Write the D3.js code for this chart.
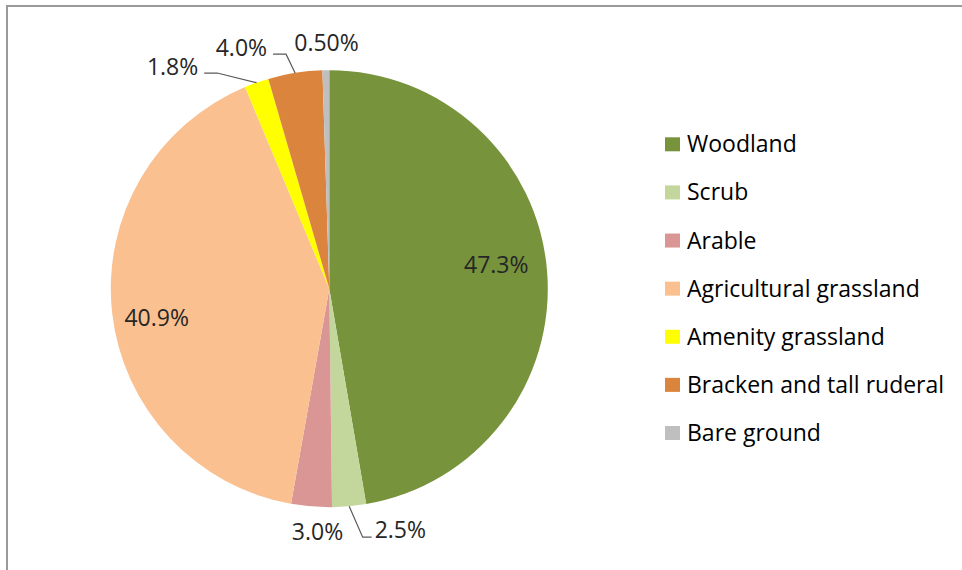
<!DOCTYPE html>
<html>
<head>
<meta charset="utf-8">
<script src="https://cdn.jsdelivr.net/npm/d3@7"></script>
<style>
  body { margin: 0; background: #fff; }
  svg { display: block; font-family: 'Open Sans', 'Noto Sans', sans-serif; }
</style>
</head>
<body>
<div id="chart"></div>
<script>
// Land cover categories and their share of the area (%)
const categories = ['Woodland', 'Scrub', 'Arable', 'Agricultural grassland', 'Amenity grassland', 'Bracken and tall ruderal', 'Bare ground'];
const shares = [47.3, 2.5, 3.0, 40.9, 1.8, 4.0, 0.5];
const labelTexts = ['47.3%', '2.5%', '3.0%', '40.9%', '1.8%', '4.0%', '0.50%'];
const colors = ['#77933C', '#C3D69B', '#D99694', '#FAC090', '#FFFF00', '#DB843D', '#BFBFBF'];

// label placement (inside = on the slice, otherwise just outside the rim)
const labelPlacement = {
  'Woodland': { inside: true, rf: 0.767, dx: 0, dy: -10 },
  'Scrub': { inside: false, dx: 49, dy: 0, leader: true },
  'Arable': { inside: false, dx: 8, dy: 2 },
  'Agricultural grassland': { inside: true, rf: 0.795, dx: 0, dy: 10 },
  'Amenity grassland': { inside: false, dx: -76, dy: 7, leader: true },
  'Bracken and tall ruderal': { inside: false, dx: -50, dy: -1, leader: true },
  'Bare ground': { inside: false, dx: 1, dy: -3.5 }
};

const width = 962, height = 570;
const cx = 329.3, cy = 288.7, radius = 218.5;

const svg = d3.select('#chart').append('svg')
  .attr('width', width)
  .attr('height', height);

// frame edges (top and left only, like the cropped screenshot)
svg.append('line')
  .attr('x1', 6).attr('x2', width).attr('y1', 6).attr('y2', 6)
  .attr('stroke', '#9a9a9a').attr('stroke-width', 2);
svg.append('line')
  .attr('x1', 7).attr('x2', 7).attr('y1', 5).attr('y2', height)
  .attr('stroke', '#9a9a9a').attr('stroke-width', 2);

const data = categories.map((name, i) => ({ name, value: shares[i], label: labelTexts[i], color: colors[i] }));

const pie = d3.pie().sort(null).value(d => d.value);
const arcs = pie(data);

const arc = d3.arc().innerRadius(0).outerRadius(radius);

const g = svg.append('g').attr('transform', `translate(${cx},${cy})`);

g.selectAll('.slice')
  .data(arcs)
  .join('path')
  .attr('class', 'slice')
  .attr('d', arc)
  .attr('fill', d => d.data.color);

function polar(angle, r) {
  return [Math.sin(angle) * r, -Math.cos(angle) * r];
}

// data labels
arcs.forEach(d => {
  const p = labelPlacement[d.data.name];
  const mid = (d.startAngle + d.endAngle) / 2;
  const base = p.inside ? polar(mid, radius * p.rf) : polar(mid, radius + 24);
  const x = base[0] + p.dx, y = base[1] + p.dy;

  const t = g.append('text')
    .attr('x', x)
    .attr('y', y)
    .attr('dy', '0.35em')
    .attr('text-anchor', 'middle')
    .style('font-size', '23px')
    .style('fill', '#262626')
    .text(d.data.label);

  if (p.leader) {
    const bb = t.node().getBBox();
    const start = polar(mid, radius);
    let pts;
    if (x > start[0]) {
      const ly = y + 7;
      pts = [start, [bb.x - 12, ly], [bb.x - 3, ly]];
    } else {
      const ly = y + 6;
      pts = [start, [bb.x + bb.width + 19, ly], [bb.x + bb.width + 6, ly]];
    }
    g.append('path')
      .attr('d', d3.line()(pts))
      .attr('fill', 'none')
      .attr('stroke', '#595959')
      .attr('stroke-width', 1.2);
  }
});

// legend
const legendY = d3.scalePoint()
  .domain(categories)
  .range([144.3, 433]);

const legend = svg.append('g');
const items = legend.selectAll('.legend-item')
  .data(data)
  .join('g')
  .attr('class', 'legend-item')
  .attr('transform', d => `translate(665,${legendY(d.name)})`);

items.append('rect')
  .attr('x', 0)
  .attr('y', -7)
  .attr('width', 15)
  .attr('height', 14)
  .attr('fill', d => d.color);

items.append('text')
  .attr('x', 22)
  .attr('y', 0)
  .attr('dy', '0.35em')
  .style('font-size', '23px')
  .style('fill', '#000')
  .text(d => d.name);
</script>
</body>
</html>
